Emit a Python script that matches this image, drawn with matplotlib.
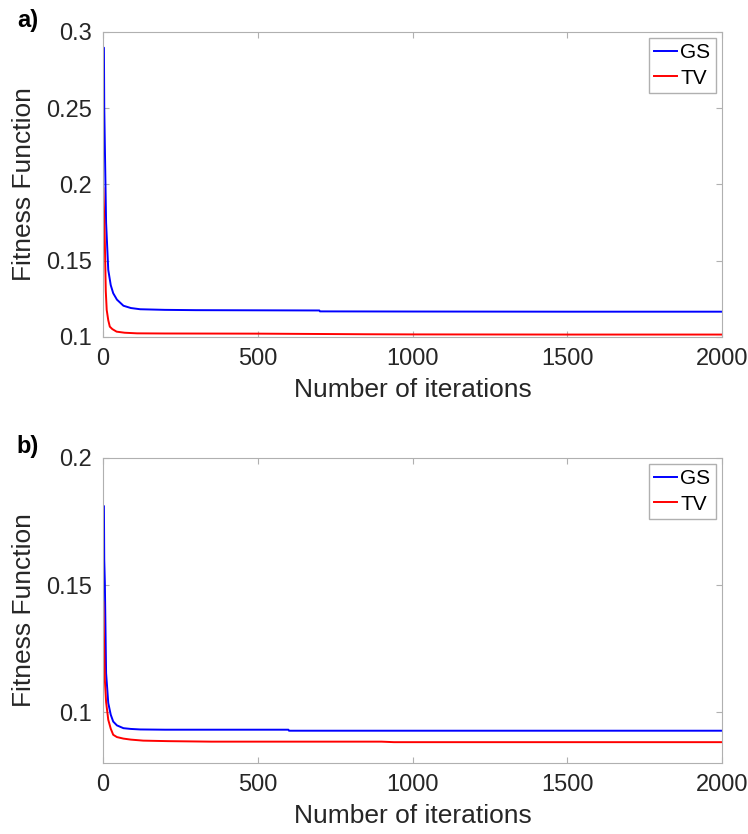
import matplotlib.pyplot as plt

plt.rcParams['font.family'] = ['Liberation Sans', 'DejaVu Sans']

# panel a
it_gs_a = [1, 3, 4, 6, 10, 17, 25, 33, 45, 66, 90, 120, 200, 300, 500, 699, 701, 1000, 1500, 2000]
gs_a = [0.2897, 0.2897, 0.251, 0.225, 0.175, 0.144, 0.134, 0.1287, 0.1245, 0.1205, 0.119, 0.1182, 0.1178, 0.1176, 0.1175, 0.1174, 0.1168, 0.1167, 0.1166, 0.1166]
it_tv_a = [1, 3, 6, 9, 12, 17, 22, 30, 44, 70, 110, 200, 500, 850, 1000, 1500, 2000]
tv_a = [0.1975, 0.185, 0.1614, 0.13, 0.1177, 0.111, 0.1068, 0.1052, 0.1035, 0.1028, 0.1024, 0.1023, 0.1022, 0.1018, 0.1017, 0.1016, 0.1016]

# panel b
it_gs_b = [1, 3, 4, 6, 10, 17, 25, 33, 45, 66, 90, 120, 200, 400, 599, 601, 1000, 1500, 2000]
gs_b = [0.1811, 0.1811, 0.16, 0.1508, 0.1154, 0.1036, 0.099, 0.0963, 0.0948, 0.0937, 0.0934, 0.0932, 0.0931, 0.0931, 0.0931, 0.0927, 0.0927, 0.0927, 0.0927]
it_tv_b = [1, 3, 6, 10, 17, 25, 33, 45, 66, 90, 130, 210, 350, 600, 900, 940, 1500, 2000]
tv_b = [0.1435, 0.13, 0.1127, 0.104, 0.097, 0.0935, 0.0911, 0.0902, 0.0896, 0.0892, 0.0888, 0.0886, 0.0884, 0.0884, 0.0884, 0.0882, 0.0882, 0.0882]

panels = [
    ("a)", it_gs_a, gs_a, it_tv_a, tv_a, (0.1, 0.3), [0.1, 0.15, 0.2, 0.25, 0.3], ["0.1", "0.15", "0.2", "0.25", "0.3"]),
    ("b)", it_gs_b, gs_b, it_tv_b, tv_b, (0.08, 0.2), [0.1, 0.15, 0.2], ["0.1", "0.15", "0.2"]),
]

fig = plt.figure(figsize=(7.48, 8.34), dpi=100)
tops = [32, 458]
for (lab, ig, g, itv, tv, ylim, yt, ytl), top in zip(panels, tops):
    ax = fig.add_axes([103 / 748, 1 - (top + 305) / 834, 619 / 748, 305 / 834])
    ax.plot(ig, g, color="blue", lw=1.4, label="GS")
    ax.plot(itv, tv, color="red", lw=1.4, label="TV")
    ax.set_xlim(0, 2000)
    ax.set_ylim(*ylim)
    ax.set_xticks([0, 500, 1000, 1500, 2000])
    ax.set_yticks(yt)
    ax.set_yticklabels(ytl)
    ax.tick_params(direction="in", top=True, right=True, labelsize=17, labelcolor="#262626",
                   length=4, color="#b0b0b0", pad=8)
    for s in ax.spines.values():
        s.set_color("#b0b0b0")
    ax.set_xlabel("Number of iterations", fontsize=19, color="#262626", labelpad=6)
    ax.set_ylabel("Fitness Function", fontsize=19, color="#262626", labelpad=7)
    leg = ax.legend(loc="upper right", fontsize=15, handlelength=1.1, handletextpad=0.15,
                    borderpad=0.25, labelspacing=0.3, fancybox=False, framealpha=1,
                    borderaxespad=0.3)
    leg.get_frame().set_edgecolor("#b0b0b0")
    fig.text(28 / 748, 1 - (top - 12) / 834, lab, fontsize=17, fontweight="bold",
             ha="center", va="center")

fig.savefig("out.png", dpi=100)
